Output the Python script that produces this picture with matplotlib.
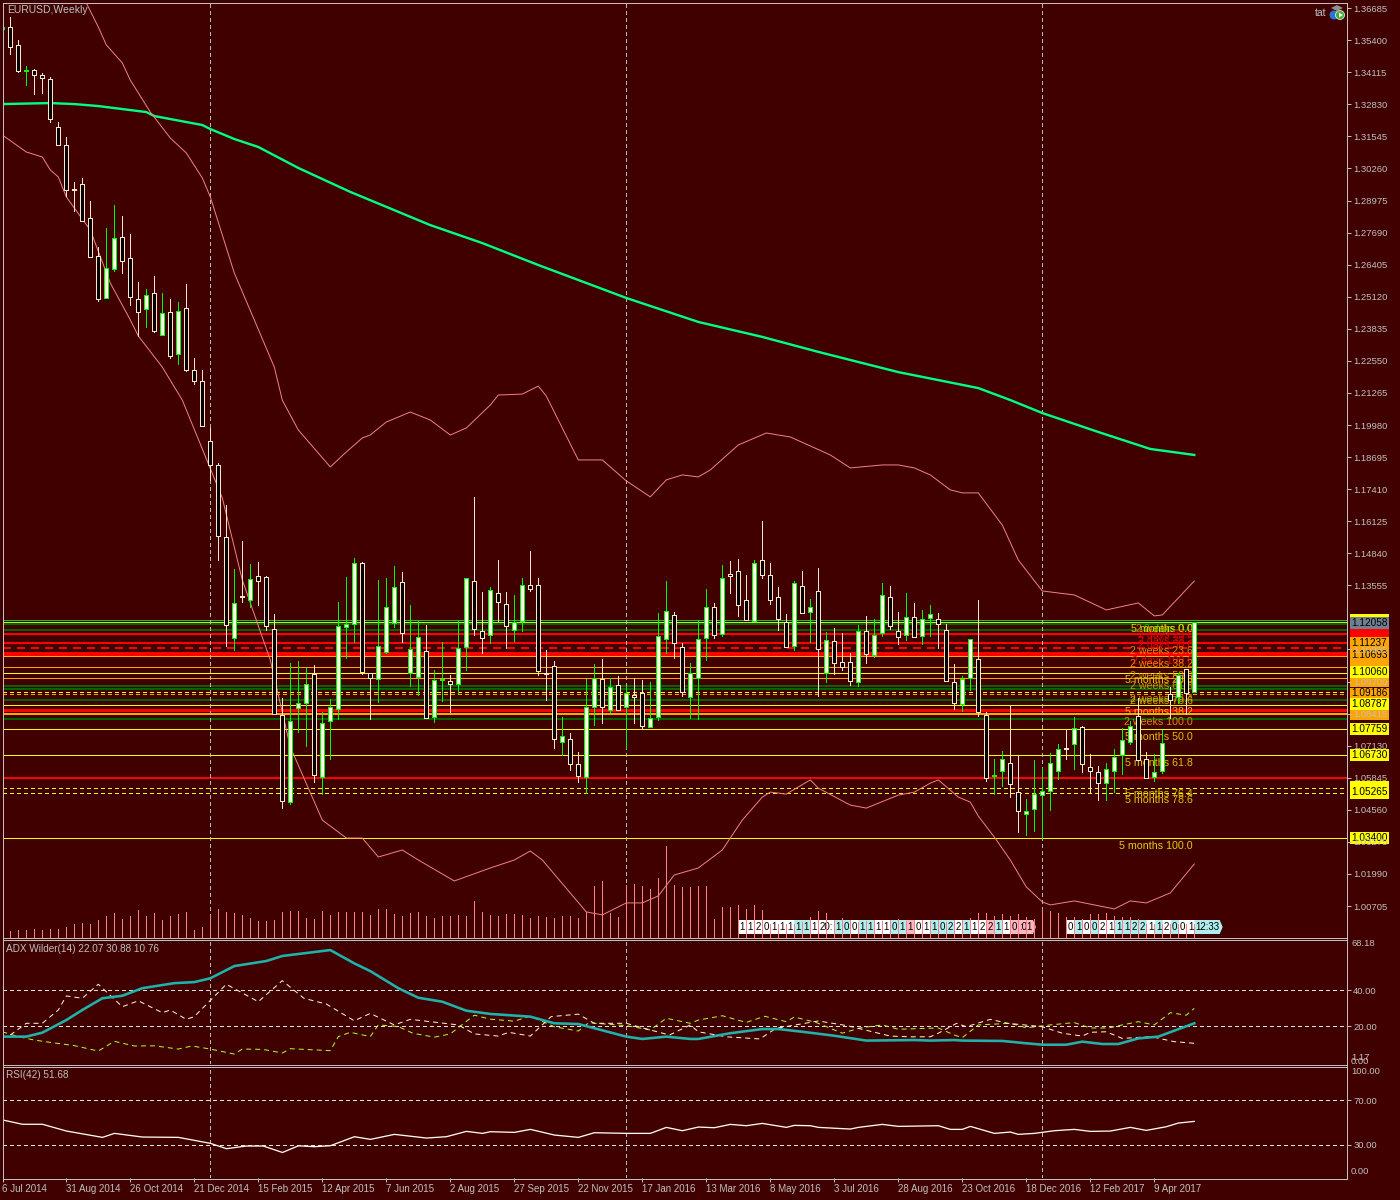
import numpy as np
import matplotlib
matplotlib.use("Agg")
import matplotlib.pyplot as plt
from matplotlib.patches import Rectangle, Circle, Polygon
from matplotlib.transforms import Affine2D

plt.rcParams['font.family'] = ['Liberation Sans', 'DejaVu Sans']

# ---------- data (prices in units of 0.0001) ----------
highs = [13593,13633,13541,13437,13425,13408,13392,13212,13152,12972,
12988,12896,12711,12787,12880,12835,12763,12571,12543,12595,
12527,12503,12491,12563,12266,12218,11986,11846,11677,11421,
11533,11441,11449,11393,11241,10904,11044,11052,11024,11036,
10848,10900,11289,11389,11465,11449,11004,11377,11385,11433,
11409,11277,11213,11197,11016,11128,10996,11213,11385,11709,
11329,11349,11457,11329,11317,11385,11493,11385,11096,11052,
10828,10764,10688,10980,11040,11060,10984,10992,10952,10984,
10976,10968,11245,11373,11249,11125,11044,11217,11341,11285,
11437,11453,11461,11397,11457,11613,11445,11349,11241,11373,
11413,11301,11425,11169,11185,11165,11084,11197,11233,11221,
11365,11353,11249,11325,11285,11257,11277,11245,11201,11040,
10992,11141,11297,10848,10660,10692,10872,10672,10499,10656,
10624,10684,10720,10776,10828,10792,10680,10632,10644,10700,
10784,10812,10904,10688,10680,10776,10948,11004,11020,11209]
lows = [13585,13485,13412,13360,13324,13328,13212,13120,12916,12856,
12815,12671,12495,12507,12615,12607,12479,12355,12391,12371,
12359,12266,12242,12214,12162,11994,11778,11457,11112,11096,
11289,11269,11277,11177,10840,10463,10479,10768,10712,10568,
10519,10660,10820,11064,11128,11000,10820,10888,11084,11189,
11128,10952,10916,10824,10808,10892,10848,10924,11016,11157,
11084,11124,11213,11104,11133,11173,11333,10996,10896,10704,
10676,10616,10568,10523,10796,10804,10848,10856,10704,10804,
10780,10788,10816,11084,11064,10912,10824,10820,11056,11145,
11153,11325,11233,11217,11213,11385,11281,11177,11108,11096,
11245,11128,10912,10968,11000,11016,10956,10952,11044,11068,
11153,11181,11120,11137,11149,11120,11153,11104,10972,10860,
10852,10936,10832,10572,10519,10551,10507,10367,10355,10371,
10343,10455,10580,10660,10620,10608,10527,10495,10495,10527,
10600,10720,10656,10584,10572,10604,10824,10884,10840,10928]
opens = [13585,13593,13521,13418,13420,13400,13384,13192,13120,12944,
12964,12827,12675,12507,12623,12751,12667,12503,12463,12527,
12359,12451,12283,12467,12218,12174,11934,11838,11549,11145,
11311,11297,11393,11389,11181,10836,10487,10864,10884,11000,
10588,10812,10860,11189,11201,11445,11004,10980,11088,11205,
11369,11004,10988,11092,10828,10978,10972,10960,11108,11373,
11173,11157,11325,11281,11177,11213,11357,11357,11006,11032,
10728,10740,10640,10588,10868,10980,10856,10956,10868,10916,
10924,10788,10828,11141,11237,11108,10908,10984,11145,11269,
11161,11401,11413,11297,11213,11457,11397,11309,11209,11112,
11353,11249,11333,11004,11133,11048,11048,10968,11173,11076,
11165,11309,11173,11157,11229,11153,11225,11221,11177,10968,
10880,10984,11060,10836,10590,10612,10644,10527,10439,10459,
10515,10531,10612,10702,10720,10788,10628,10608,10564,10612,
10676,10728,10832,10660,10588,10612,10920,10908,11020,10928]
closes = [13593,13513,13416,13422,13400,13388,13224,13120,12940,12940,
12815,12671,12503,12627,12747,12655,12511,12451,12519,12375,
12447,12275,12455,12218,12174,11994,11838,11553,11197,11285,
11307,11381,11373,11193,10840,10491,10812,10884,10960,10596,
10804,10868,11193,11201,11445,11008,10984,11112,11269,11349,
11165,11100,11149,10824,10976,10982,10960,11104,11385,11181,
11145,11337,11289,11193,11209,11357,11341,11012,11002,10740,
10752,10640,10592,10868,10984,10868,10948,10856,10924,10908,
10792,10824,11153,11253,11125,10928,11004,11141,11269,11157,
11385,11393,11277,11217,11445,11397,11297,11221,11108,11365,
11245,11269,11100,11137,11044,11028,10972,11173,11080,11157,
11317,11193,11149,11229,11149,11221,11241,11201,10972,10884,
10980,11141,10848,10584,10594,10660,10559,10451,10451,10519,
10531,10644,10700,10698,10784,10640,10612,10564,10620,10668,
10736,10792,10656,10584,10608,10724,10896,10996,10924,11209]
volumes = [0,7,8,8,9,8,9,9,11,14,15,
14,18,22,25,19,22,28,22,25,18,
22,24,26,8,11,23,29,26,25,23,
20,17,17,18,26,27,27,20,19,27,
23,26,26,26,26,23,29,29,24,22,
25,26,22,20,22,22,23,22,37,26,
23,22,24,24,23,20,22,21,20,22,
22,20,26,52,57,25,21,53,54,52,
49,60,92,53,51,51,52,52,19,31,
31,33,29,33,28,14,14,14,14,16,
21,27,25,18,20,18,16,17,18,17,
18,19,17,18,18,17,18,16,18,18,
20,25,25,22,24,22,24,21,19,29,
27,25,21,21,19,24,24,25,22,21,
21,19,14,14,14,14,14,14,14]

ma_idx = [0,3,6,9,12,15,18,19,25,26,29,32,37,43.5,53.5,60,67,78,87,95,102,112,122,126,130,137,143.5,149]
ma_val = [13284,13286,13288,13284,13276,13264,13252,13236,13200,13184,13144,13112,13028,12932,12799,12727,12639,12507,12411,12351,12291,12210,12146,12098,12046,11970,11902,11878]

up_idx = [10,12,13,15,16,18.5,21,23,25,26,29,31.5,34,35,37,41,43,45,46,48,51,53.5,56,58,61,62,65,67,68,69.5,72,75,78,81,83,85,87,88.5,92,95.5,98.5,103.5,106,110,112,114,116,118.5,120,122,125,127,130,134,138,142,144,145,149]
up_val = [13721,13593,13521,13449,13380,13252,13148,13088,12988,12912,12607,12419,12230,12098,11978,11830,11890,11946,11958,12010,12050,12018,11958,11986,12078,12118,12122,12154,12114,12018,11858,11858,11774,11710,11778,11798,11790,11818,11918,11966,11950,11878,11826,11838,11838,11826,11798,11738,11726,11726,11597,11457,11333,11317,11257,11285,11233,11237,11373]

lo_idx = [0,3,5,6,7,8,11,13.5,16,17,20,22.5,27.5,30,33.5,36,40,43,45,47,50,52,56.5,61,64,66,67.5,73,75,78,80,82,84,87,90,92.5,95,96,98,101,102,106,108,112,114,116,117,119.5,121,122,124,126,128,130,131,134,139,141,143,146,149]
lo_val = [13160,13092,13072,13020,12992,12912,12779,12567,12419,12355,12230,12098,11706,11377,11056,10708,10415,10343,10343,10267,10295,10255,10171,10223,10255,10291,10255,10047,10035,10083,10083,10111,10195,10223,10295,10415,10507,10527,10519,10576,10543,10475,10463,10515,10527,10563,10576,10507,10487,10431,10347,10255,10147,10087,10075,10091,10059,10091,10083,10123,10239]

adx_idx = [0,3,5,8,10,12.5,15,17.5,21.5,24,26,29,33,35,41,44,46,49.5,52,55,58,61,66,69,72,78,80,83,86,87,91,95,97,100,104,108,114,116,119,120,125,128,130,133,135,137.5,139.5,142,144.5,146.5,149]
adx_val = [14.1,14.1,16.3,23.3,28.9,35.4,36.8,41,43.8,44.4,46.5,53.3,56.1,58.9,62.2,54.8,50.5,41,35.7,33.5,28.5,26.7,25.2,21.5,21.1,14.1,12.8,14.1,12.8,12.8,16,18.3,18.3,16.8,14.6,11.9,12.2,11.9,12.2,11.9,11.7,10.4,9.6,9.6,11.3,10,10,13.1,14.1,17.4,21.5]

pdi_idx = [0,2,4,6,9,12,14,16.5,19,22,23.7,26,29,30,32.6,35,36,41,42,43.5,46,47,49.5,51.3,54,56,59,61,64,66,69,72,73.3,78,81,83,86,87,90,93,95.3,98,99,101.7,105,107.3,110,112,117,119,120,122,126,128,131,134,136,138.3,140,142,144,146,148,149]
pdi_val = [16.8,14.1,12.2,10.9,9.1,6.1,11.5,8.9,9,7.2,8.9,7.2,4.4,7.2,7,5,7.4,6.3,14.1,16.5,14.1,20.6,19.7,16,13.8,15.6,26,23.8,22.7,25.5,19.6,17.2,21.8,20.2,17.8,24.3,21.5,23.3,25.7,22,25.4,22.4,25,22,16,19,20.6,18.2,18.9,15,13.5,20.6,21.5,19,20.6,21.9,18.9,18.9,20.6,22.4,20.6,27.4,26,29.8]

mdi_idx = [1,3,5,7,8,10,12,15,17,20,21,23,24,28,32,35,37.7,40.5,44,46,49,51,57,59,62,63.3,66,68.6,72,74,78,81,83.4,86,87,90.5,94.7,96.7,102,105.6,111,113.5,116,117,119.3,120.5,123.5,125.7,130,132.5,135,136,138,140,143.6,146.5,149]
mdi_val = [15,21.5,21.5,28.9,36.7,35.4,43.2,30.7,34,27.4,28.9,23.7,25.2,43.2,33.5,45.2,35.4,32.2,22.9,27,20.6,23.7,20.6,15.6,14.4,16.5,14.4,25.2,26.6,21.5,21.5,17.8,15,20.6,16.8,14,12.8,18.7,22.8,20.2,14.4,14,14,16,21.5,19.6,23.7,21.5,19.6,16,14.4,16.5,16.8,13.1,14.1,11.3,10.4]

rsi_idx = [0,2.5,5,8,12.5,14,17.5,22,26,28,30.5,32.6,35,37,39,41,44,46,49,53,55.5,58,60,61,64,66,69,72,74,78,81,83,85,87,89,91,93,95,98,99,101,102,106,107,110,112,117,118.5,120,121,124,126,127,129,131.5,134,136,138.5,141,143,145.5,147,149]
rsi_val = [52.3,48.4,48.4,42.3,36.6,40.2,36.9,36.6,31.2,26.4,28.8,28.8,23,29,28.2,29.1,37.2,34.8,39.3,36,37.2,42,40.2,41.7,41.1,43.8,38.7,36.6,40.8,40.2,40.2,45.6,42.6,45.9,45.3,48.3,47.1,49.2,45.6,47.4,47.1,45.6,44.1,45.6,48.3,46.5,47.1,43.8,43.8,46.5,40.2,41.4,39.3,40.2,42.6,43.8,42,42.3,45.6,42.9,46.2,49.5,51]

price_ticks = ['1.36685','1.35400','1.34115','1.32830','1.31545','1.30260','1.28975','1.27690','1.26405','1.25120','1.23835','1.22550','1.21265','1.19980','1.18695','1.17410','1.16125','1.14840','1.13555','1.10985','1.09700','1.08415','1.07130','1.05845','1.04560','1.03275','1.01990','1.00705']
date_labels = ['6 Jul 2014','31 Aug 2014','26 Oct 2014','21 Dec 2014','15 Feb 2015','12 Apr 2015','7 Jun 2015','2 Aug 2015','27 Sep 2015','22 Nov 2015','17 Jan 2016','13 Mar 2016','8 May 2016','3 Jul 2016','28 Aug 2016','23 Oct 2016','18 Dec 2016','12 Feb 2017','9 Apr 2017']
sep_bars = [26,78,130]

Y='#FFFF00'; O='#FFA500'; R='#FF0000'; G='#006400'
level_prices = [11217,11209,11201,11175,11161,11125,11104,11080,11072,11028,11006,10984,10952,10940,10928,10920,10896,10878,10856,10840,10820,10780,10676,10583,10545,10525,10343]
level_colors = ['#00D000','#D0E040',G,G,R,R,R,R,O,O,Y,O,G,G,Y,O,G,Y,R,O,G,Y,Y,R,Y,Y,Y]
level_widths = [1,1,2,2,1.5,1.5,2,4,1,1,1,1,2,2,1,1,2,1,3,1.5,2,1,1,2,1,1,1]
level_dashed = [0,0,0,0,0,0,1,0,0,0,0,0,0,0,1,1,0,0,0,0,0,0,0,0,1,1,0]

fib_text = ['2 days 0.0','2 weeks 0.0','5 months 0.0','2 days 23.6','2 days 38.2','2 days 50.0','2 weeks 23.6','2 days 100.0','2 weeks 38.2','2 weeks 50.0','5 months 23.6','2 weeks 61.8','2 weeks 76.4','2 weeks 78.6','5 months 38.2','2 weeks 100.0','5 months 50.0','5 months 61.8','5 months 76.4','5 months 78.6','5 months 100.0']
fib_y = [629,629,629,635,641,645,651,661,664,676,680,686,699,701,712,722,737,763,794,800,846]
fib_col = ['#00C800','#D08000','#D8D800','#E00000','#E00000','#E00000','#E08800','#E00000','#E08800','#D89000','#D8D000','#D89000','#C89000','#C8A800','#E0C000','#E08800','#E0C000','#E0C000','#D8C800','#D8C800','#E0D000']

box_top = [614,617,629,637,650,660,666,678,688,698,710,723,749,781,785,832]
box_bot = [618,629,637,650,660,666,678,687,698,710,720,735,761,786,799,844]
box_col = [Y,'#708090',R,O,O,O,Y,O,O,Y,O,Y,Y,Y,Y,Y]
box_txt = ['', '1.12058','', '1.11237','1.10693','','1.10060','','1.09186','1.08787','','1.07759','1.06730','','1.05265','1.03400']

cells1 = list('1120111111') + ['20:'] + list('100111101') + list('10110221122110')
cells1_col = list('wwwwwwwccw') + ['w'] + list('ccwccwwcc') + list('pwwcccwcwwpcwp')
tail1 = ':01'
cells2 = list('0100211122112001')
cells2_col = list('wcwcwwcccc') + list('wcwcww')
tail2 = '12:33'

# ---------- helpers ----------
BG = '#400000'; SILVER = '#C0C0C0'; PX1 = 0.72
W, H = 1400, 1200
def rect(x0, y0, x1, y1):
    return [x0/W, 1-y1/H, (x1-x0)/W, (y1-y0)/H]
XPX = lambda x: (x-2.3)/8.0
XL = (XPX(2.5), XPX(1347))
PXT = Affine2D().scale(1, -1).translate(0, H)

fig = plt.figure(figsize=(14, 12), dpi=100, facecolor=BG)

def make_ax(y0, y1, z):
    ax = fig.add_axes(rect(2.5, y0, 1347, y1), facecolor=BG, zorder=z)
    ax.set_xlim(*XL)
    for s in ax.spines.values():
        s.set_visible(False)
    ax.set_xticks([])
    ax.yaxis.tick_right()
    ax.tick_params(axis='y', colors=SILVER, length=3, width=PX1, labelsize=6.8, pad=1.5)
    ax.set_axisbelow(False)
    for b in sep_bars:
        ax.axvline(b, color='#B8B8B8', lw=PX1, ls=(0, (4, 4)), zorder=1.4, antialiased=False)
    return ax

# ---------- main panel ----------
ax = make_ax(2.5, 937.5, 1)
ax.set_ylim((13701-4.007*937.5)/1e4, (13701-4.007*2.5)/1e4)
ax.set_yticks([float(t) for t in price_ticks])
ax.set_yticklabels(price_ticks)

for p, c, w, d in zip(level_prices, level_colors, level_widths, level_dashed):
    ax.axhline(p/1e4, color=c, lw=w*PX1, ls=(0, (4, 3)) if d else '-', zorder=1, antialiased=False)

for t, y, c in zip(fib_text, fib_y, fib_col):
    ax.text(1193, y, t, transform=PXT, ha='right', va='center', color=c, fontsize=7.7, zorder=1.6, clip_on=False)

for t, b, c, s in zip(box_top, box_bot, box_col, box_txt):
    ax.add_patch(Rectangle((1350, H-b), 39, b-t, transform=Affine2D(), facecolor=c, edgecolor='none', zorder=2, clip_on=False))
    if s:
        ax.text(1369.5, H-(t+b)/2, s, transform=Affine2D(), ha='center', va='center', color='black', fontsize=7.2, zorder=2.1, clip_on=False)

ax.plot(np.array(ma_idx), np.array(ma_val)/1e4, color='#00FF7F', lw=2.4*PX1, zorder=3)
ax.plot(np.array(up_idx), np.array(up_val)/1e4, color='#F08080', lw=PX1, zorder=3)
ax.plot(np.array(lo_idx), np.array(lo_val)/1e4, color='#F08080', lw=PX1, zorder=3)

hi, lo, op, cl = [np.array(a)/1e4 for a in (highs, lows, opens, closes)]
idx = np.arange(len(hi))
is_up = cl >= op
bot = np.minimum(op, cl); top = np.maximum(op, cl)
ax.vlines(idx[is_up], lo[is_up], hi[is_up], color='#00FF00', lw=PX1, zorder=4, antialiased=False)
ax.vlines(idx[~is_up], lo[~is_up], hi[~is_up], color='#FFE4C4', lw=PX1, zorder=4, antialiased=False)
ax.bar(idx[is_up], (top-bot)[is_up], bottom=bot[is_up], width=0.5, facecolor='#FFFFE8', edgecolor='#00FF00', lw=PX1, zorder=5, antialiased=False)
ax.bar(idx[~is_up], (top-bot)[~is_up], bottom=bot[~is_up], width=0.5, facecolor='black', edgecolor='#FFE4C4', lw=PX1, zorder=5, antialiased=False)

# ---------- label chains ----------
ax_cells = fig.add_axes([0, 0, 1, 1], zorder=2)
ax_cells.set_xlim(0, W); ax_cells.set_ylim(H, 0); ax_cells.axis('off')
CELL = {'w': '#FFFFFF', 'c': '#AFEEEE', 'p': '#FFB6C1'}
def chain(x0, cells, cols, tail, tail_col, tail_w):
    x = x0
    for s, c in zip(cells, cols):
        w = 16 if len(s) > 1 else 8
        ax_cells.add_patch(Rectangle((x, 920), w, 14, facecolor=CELL[c], edgecolor='none'))
        ax_cells.text(x+w/2, 927.5, s, ha='center', va='center', fontsize=7, color='black')
        x += w
    ax_cells.add_patch(Polygon([(x, 920), (x+tail_w-3, 920), (x+tail_w, 927), (x+tail_w-3, 934), (x, 934)], facecolor=CELL[tail_col], edgecolor='none'))
    ax_cells.text(x+tail_w/2-1, 927.5, tail, ha='center', va='center', fontsize=7, color='black')
chain(738, cells1, cells1_col, tail1, 'p', 18)
chain(1066.7, cells2, cells2_col, tail2, 'c', 28)

# ---------- volume ----------
ax_vol = fig.add_axes(rect(2.5, 2.5, 1347, 937.5), zorder=3, facecolor='none')
ax_vol.set_xlim(*XL); ax_vol.set_ylim(0, 935); ax_vol.axis('off')
ax_vol.vlines(np.arange(len(volumes)), 0, volumes, color='#FF8080', lw=PX1, antialiased=False)

# ---------- ADX ----------
a2 = make_ax(939.5, 1064, 4)
a2.set_ylim(-1.11, 68.06)
a2.set_yticks([40, 20]); a2.set_yticklabels(['40.00', '20.00'])
for v in (40, 20):
    a2.axhline(v, color='#E0E0E0', lw=PX1, ls=(0, (4, 4)), zorder=1, antialiased=False)
a2.plot(pdi_idx, pdi_val, color='#ADFF2F', lw=PX1, ls=(0, (5, 4)), zorder=2)
a2.plot(mdi_idx, mdi_val, color='#FFFACD', lw=PX1, ls=(0, (5, 4)), zorder=2)
a2.plot(adx_idx, adx_val, color='#20B2AA', lw=2.6*PX1, zorder=3)

# ---------- RSI ----------
a3 = make_ax(1067, 1178, 4)
a3.set_ylim(0, 100)
a3.set_yticks([70, 30]); a3.set_yticklabels(['70.00', '30.00'])
for v in (70, 30):
    a3.axhline(v, color='#E0E0E0', lw=PX1, ls=(0, (4, 4)), zorder=1, antialiased=False)
a3.plot(rsi_idx, rsi_val, color='#FFFAF0', lw=1.3*PX1, zorder=3)
tick_pos = np.arange(len(date_labels))*8
a3.set_xticks(tick_pos)
a3.set_xticklabels(date_labels, ha='left')
a3.tick_params(axis='x', colors=SILVER, length=3, width=PX1, labelsize=7, pad=1.2)

# ---------- frame & titles ----------
ov = fig.add_axes([0, 0, 1, 1], zorder=10, facecolor='none')
ov.set_xlim(0, W); ov.set_ylim(H, 0); ov.axis('off')
for y in (2.5, 937.5, 939.5, 1064.5, 1066.5, 1178.5):
    ov.plot([2.5, 1347], [y, y], color=SILVER, lw=PX1, antialiased=False)
for x in (2.5, 1347):
    ov.plot([x, x], [2.5, 1178.5], color=SILVER, lw=PX1, antialiased=False)
ov.text(7, 10, 'EURUSD,Weekly', color=SILVER, fontsize=7.5, va='center')
ov.text(6, 948.5, 'ADX Wilder(14) 22.07 30.88 10.76', color=SILVER, fontsize=7.2, va='center')
ov.text(6, 1075.5, 'RSI(42) 51.68', color=SILVER, fontsize=7.2, va='center')
ov.text(1315, 13, 'tat', color=SILVER, fontsize=7.5, va='center')
ov.add_patch(Polygon([(1331, 8), (1337, 5), (1343, 8), (1337, 11)], facecolor='#909090', edgecolor='none'))
ov.add_patch(Circle((1334, 15), 4.5, facecolor='#3070D0', edgecolor='none'))
ov.add_patch(Circle((1340, 15), 4.5, facecolor='#40B030', edgecolor='white', lw=0.5))
ov.add_patch(Polygon([(1339, 12.5), (1343, 15), (1339, 17.5)], facecolor='white', edgecolor='none'))
for s, y in (('68.18', 944), ('1.17', 1058), ('0.00', 1061), ('100.00', 1072), ('0.00', 1172)):
    ov.text(1351, y, s, color=SILVER, fontsize=6.8, va='center')

fig.savefig('out.png', dpi=100, facecolor=BG)
